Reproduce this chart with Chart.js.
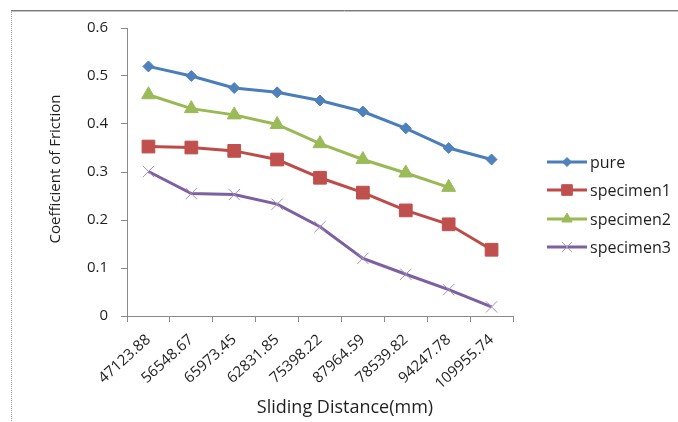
<!DOCTYPE html>
<html>
<head>
<meta charset="utf-8">
<script src="https://cdn.jsdelivr.net/npm/chart.js@4/dist/chart.umd.min.js"></script>
<style>
  html, body { margin: 0; padding: 0; background: #ffffff; }
  #wrap { width: 678px; height: 422px; position: relative; }
</style>
</head>
<body>
<div id="wrap"><canvas id="c" width="678" height="422"></canvas></div>
<script>
// Sliding distance categories (mm)
const distances = ['47123.88', '56548.67', '65973.45', '62831.85', '75398.22', '87964.59', '78539.82', '94247.78', '109955.74'];

// Coefficient of friction per material
const pure      = [0.520, 0.500, 0.475, 0.466, 0.449, 0.426, 0.391, 0.350, 0.326];
const specimen1 = [0.353, 0.351, 0.344, 0.326, 0.288, 0.257, 0.220, 0.191, 0.138];
const specimen2 = [0.461, 0.432, 0.419, 0.399, 0.359, 0.326, 0.298, 0.268, null];
const specimen3 = [0.301, 0.255, 0.253, 0.233, 0.186, 0.120, 0.087, 0.055, 0.019];

const yTicks = [0, 0.1, 0.2, 0.3, 0.4, 0.5, 0.6];

const FONT = "'Open Sans', 'DejaVu Sans', sans-serif";
const TEXT = '#1f1f1f';
const AXIS = '#8a8a8a';

const seriesStyles = [
  { label: 'pure',      data: pure,      line: '#4A7EBB', fill: '#4F81BD', point: 'rectRot',  r: 5.5, lr: 4.5 },
  { label: 'specimen1', data: specimen1, line: '#BE4B48', fill: '#C0504D', point: 'rect',     r: 9,   lr: 7.5 },
  { label: 'specimen2', data: specimen2, line: '#98B954', fill: '#9BBB59', point: 'triangle', r: 8,   lr: 6 },
  { label: 'specimen3', data: specimen3, line: '#7D60A0', fill: '#A491C4', point: 'crossRot', r: 8,   lr: 7 }
];

const datasets = seriesStyles.map(s => ({
  label: s.label,
  data: s.data,
  borderColor: s.line,
  borderWidth: 3,
  backgroundColor: s.fill,
  pointStyle: s.point,
  pointRadius: s.r,
  pointHoverRadius: s.r,
  pointBackgroundColor: s.fill,
  pointBorderColor: s.fill,
  pointBorderWidth: 1,
  tension: 0,
  spanGaps: false,
  fill: false
}));

// Frame, axis titles and the line-with-marker legend
const decorations = {
  id: 'decorations',
  beforeDraw(chart) {
    const ctx = chart.ctx;
    ctx.save();
    ctx.strokeStyle = '#9a9a9a';
    ctx.lineWidth = 1;
    ctx.setLineDash([1, 1]);
    ctx.beginPath();
    ctx.moveTo(11.5, 10);
    ctx.lineTo(11.5, 422);
    ctx.stroke();
    ctx.setLineDash([]);
    ctx.strokeStyle = '#7a7a7a';
    ctx.beginPath();
    ctx.moveTo(11, 10.5);
    ctx.lineTo(678, 10.5);
    ctx.stroke();
    ctx.strokeStyle = '#c4c4c4';
    ctx.beginPath();
    ctx.moveTo(11, 11.5);
    ctx.lineTo(678, 11.5);
    ctx.stroke();
    ctx.restore();
  },
  afterDraw(chart) {
    const ctx = chart.ctx;
    ctx.save();
    ctx.fillStyle = TEXT;
    // axis titles
    ctx.font = '18px ' + FONT;
    ctx.textAlign = 'center';
    ctx.textBaseline = 'middle';
    ctx.fillText('Sliding Distance(mm)', 345, 408);
    ctx.translate(56, 169);
    ctx.rotate(-Math.PI / 2);
    ctx.font = '15px ' + FONT;
    ctx.fillText('Coefficient of Friction', 0, 0);
    ctx.restore();

    // legend
    const rows = [162, 190, 219, 247];
    seriesStyles.forEach((s, i) => {
      const y = rows[i];
      ctx.save();
      ctx.strokeStyle = s.line;
      ctx.lineWidth = 3;
      ctx.beginPath();
      ctx.moveTo(547, y);
      ctx.lineTo(587, y);
      ctx.stroke();
      ctx.fillStyle = s.fill;
      ctx.strokeStyle = s.fill;
      ctx.lineWidth = 1;
      Chart.helpers.drawPoint(ctx, { pointStyle: s.point, radius: s.lr, rotation: 0, borderWidth: 1 }, 567, y);
      ctx.fillStyle = TEXT;
      ctx.font = '16px ' + FONT;
      ctx.textAlign = 'left';
      ctx.textBaseline = 'middle';
      ctx.fillText(s.label, 590, y + 1);
      ctx.restore();
    });
  }
};

new Chart(document.getElementById('c'), {
  type: 'line',
  data: { labels: distances, datasets: datasets },
  options: {
    responsive: false,
    animation: false,
    devicePixelRatio: 1,
    layout: { padding: { left: 0, top: 28, right: 165, bottom: 0 } },
    plugins: {
      legend: { display: false },
      tooltip: { enabled: false }
    },
    scales: {
      x: {
        type: 'category',
        offset: true,
        grid: {
          display: true,
          offset: true,
          drawOnChartArea: false,
          drawTicks: true,
          tickLength: 6,
          color: AXIS
        },
        border: { display: true, color: AXIS, width: 1 },
        ticks: {
          autoSkip: false,
          minRotation: 42,
          maxRotation: 42,
          padding: 9,
          color: TEXT,
          font: { family: FONT, size: 15 }
        },
        afterFit(scale) { scale.height = 106; }
      },
      y: {
        min: 0,
        max: 0.6,
        afterBuildTicks(scale) { scale.ticks = yTicks.map(v => ({ value: v })); },
        grid: {
          display: true,
          drawOnChartArea: false,
          drawTicks: true,
          tickLength: 6,
          color: AXIS
        },
        border: { display: true, color: AXIS, width: 1 },
        ticks: {
          padding: 13,
          color: TEXT,
          font: { family: FONT, size: 15 },
          callback: v => String(Math.round(v * 10) / 10)
        },
        afterFit(scale) { scale.width = 127; }
      }
    }
  },
  plugins: [decorations]
});
</script>
</body>
</html>
